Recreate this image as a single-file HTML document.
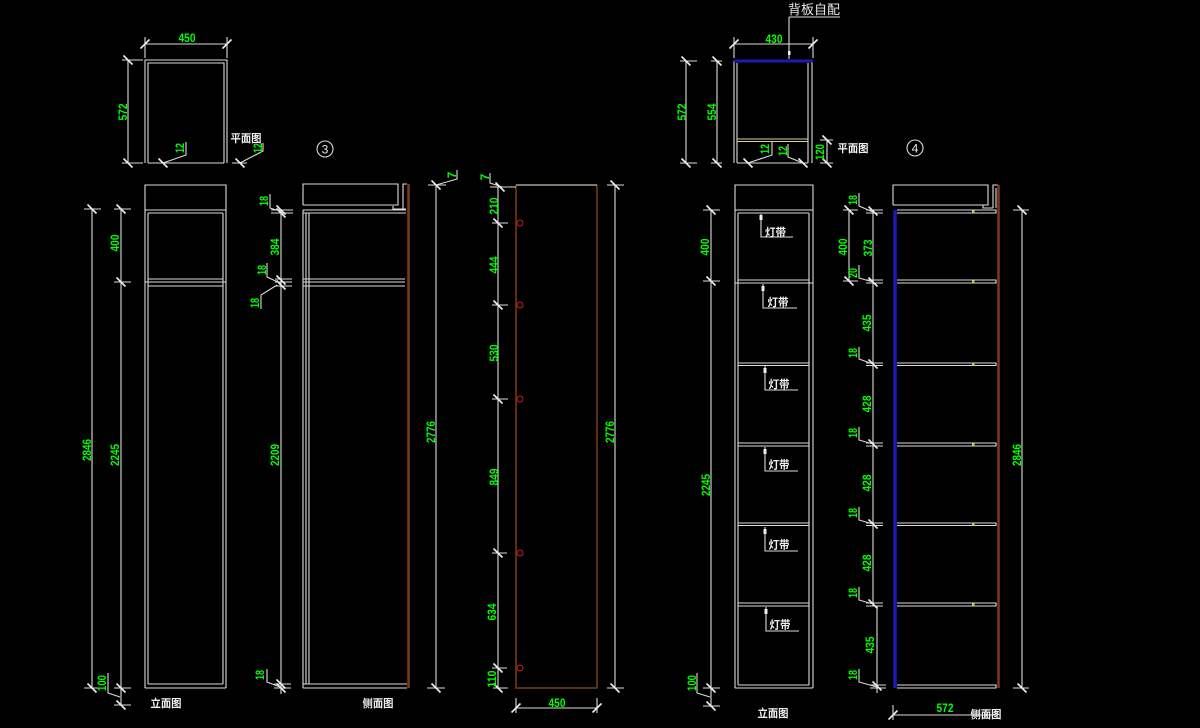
<!DOCTYPE html>
<html><head><meta charset="utf-8"><style>
html,body{margin:0;padding:0;background:#000;}
svg{display:block;}
.d{fill:#00ff00;font-family:"Liberation Sans","Noto Sans CJK SC",sans-serif;font-size:12px;font-weight:bold;}
.c{fill:#f0f0f0;font-family:"Liberation Sans","Noto Sans CJK SC",sans-serif;font-size:11px;font-weight:bold;}
.w{stroke:#dcdcdc;stroke-width:1.1;fill:none;}
.br{stroke:#7a3c14;fill:none;}
.bl{stroke:#1a1ab4;fill:none;}
</style></head><body>
<svg width="1200" height="728" viewBox="0 0 1200 728" xmlns="http://www.w3.org/2000/svg">
<defs>
<path id="tv" d="M-4.5,-4.5L4.5,4.5" stroke="#eeeeee" stroke-width="1.6"/>
<path id="th" d="M-4.5,4.5L4.5,-4.5" stroke="#eeeeee" stroke-width="1.6"/>
</defs>
<rect width="1200" height="728" fill="#000"/>

<!-- ===== LEFT PLAN ===== -->
<path class="w" d="M145,163V60H227V163M148,163V63H224V163M148,163H224"/>
<path class="w" d="M145,44H227M145,37V58M227,37V58"/>
<use href="#th" x="145" y="44"/><use href="#th" x="227" y="44"/>
<text class="d" x="187" y="42" text-anchor="middle" textLength="17" lengthAdjust="spacingAndGlyphs">450</text>
<path class="w" d="M128,60V163M122,60H143M122,163H143"/>
<use href="#tv" x="128" y="60"/><use href="#tv" x="128" y="163"/>
<text class="d" transform="translate(127,112) rotate(-90)" text-anchor="middle" textLength="17" lengthAdjust="spacingAndGlyphs">572</text>
<path class="w" d="M163,163L186,155V142"/><use href="#tv" x="163" y="163"/>
<text class="d" transform="translate(184,148) rotate(-90)" text-anchor="middle" textLength="10" lengthAdjust="spacingAndGlyphs">12</text>
<path class="w" d="M232,163H247M240,163L263,151V143"/><use href="#tv" x="240" y="163"/>
<text class="d" transform="translate(262,148) rotate(-90)" text-anchor="middle" textLength="10" lengthAdjust="spacingAndGlyphs">12</text>
<text class="c" x="246" y="142" text-anchor="middle" textLength="31" lengthAdjust="spacingAndGlyphs">平面图</text>
<circle cx="325" cy="149" r="8" class="w"/>
<text x="325" y="153.5" text-anchor="middle" style="fill:#e8e8e8;font-family:'Liberation Sans',sans-serif;font-size:12px;">3</text>

<!-- ===== LEFT ELEVATION ===== -->
<path class="w" d="M145,688V185H226V688M145,210H226M148,213H223M148,213V684M223,213V684M148,279H223M145,282H226M148,286H223M148,684H223M145,688H226"/>
<path class="w" d="M92,209V688M84,209H101M84,688H101"/>
<use href="#tv" x="92" y="209"/><use href="#tv" x="92" y="688"/>
<path class="w" d="M121,209V705M114,209H131M114,282H131M114,688H131M114,705H131"/>
<use href="#tv" x="121" y="209"/><use href="#tv" x="121" y="282"/><use href="#tv" x="121" y="688"/><use href="#tv" x="121" y="705"/>
<text class="d" transform="translate(91,450) rotate(-90)" text-anchor="middle" textLength="22" lengthAdjust="spacingAndGlyphs">2846</text>
<text class="d" transform="translate(119,243) rotate(-90)" text-anchor="middle" textLength="17" lengthAdjust="spacingAndGlyphs">400</text>
<text class="d" transform="translate(119,455) rotate(-90)" text-anchor="middle" textLength="22" lengthAdjust="spacingAndGlyphs">2245</text>
<path class="w" d="M108,673V693L120,697"/>
<text class="d" transform="translate(106,683) rotate(-90)" text-anchor="middle" textLength="16" lengthAdjust="spacingAndGlyphs">100</text>
<text class="c" x="166" y="707" text-anchor="middle" textLength="31" lengthAdjust="spacingAndGlyphs">立面图</text>

<!-- ===== MIDDLE SIDE VIEW ===== -->
<path class="w" d="M303,205V184H398V205H303M393,206V209H406M403,209V184H407"/>
<path class="br" stroke-width="2.5" d="M408.5,184V688"/>
<path class="w" d="M303,210H406M303,213H406M303,210V688M306,213V684M309,213V684M303,279H405M303,282H405M303,286H405M303,684H407M303,688H407"/>
<path class="w" d="M281,209V694M271,210H293M271,213H293M275,279H292M275,282H292M275,286H292M274,684H291M274,688H291"/>
<use href="#tv" x="281" y="210"/><use href="#tv" x="281" y="213"/><use href="#tv" x="281" y="280"/><use href="#tv" x="281" y="285"/><use href="#tv" x="281" y="684"/><use href="#tv" x="281" y="688"/>
<path class="w" d="M270,194V208L283,212M267,263V277L280,283M261,309V295L277,285M267,669V682L280,687"/>
<text class="d" transform="translate(268,201) rotate(-90)" text-anchor="middle" textLength="10" lengthAdjust="spacingAndGlyphs">18</text>
<text class="d" transform="translate(279,247) rotate(-90)" text-anchor="middle" textLength="17" lengthAdjust="spacingAndGlyphs">384</text>
<text class="d" transform="translate(266,270) rotate(-90)" text-anchor="middle" textLength="10" lengthAdjust="spacingAndGlyphs">18</text>
<text class="d" transform="translate(259,303) rotate(-90)" text-anchor="middle" textLength="10" lengthAdjust="spacingAndGlyphs">18</text>
<text class="d" transform="translate(279,455) rotate(-90)" text-anchor="middle" textLength="22" lengthAdjust="spacingAndGlyphs">2209</text>
<text class="d" transform="translate(264,675) rotate(-90)" text-anchor="middle" textLength="10" lengthAdjust="spacingAndGlyphs">18</text>
<text class="c" x="378" y="707" text-anchor="middle" textLength="31" lengthAdjust="spacingAndGlyphs">侧面图</text>
<path class="w" d="M436,185V688M428,185H446M427,688H445M436,185L457,179V170"/>
<use href="#tv" x="436" y="185"/><use href="#tv" x="436" y="688"/>
<text class="d" transform="translate(456,175) rotate(-90)" text-anchor="middle">7</text>
<text class="d" transform="translate(435,432) rotate(-90)" text-anchor="middle" textLength="22" lengthAdjust="spacingAndGlyphs">2776</text>

<!-- ===== BACK PANEL ===== -->
<path class="br" stroke-width="1.5" d="M516,185V688H597V185"/>
<path stroke="#c8c0b0" stroke-width="1.2" d="M516,185H597"/>
<g stroke="#c82020" fill="none" stroke-width="1">
<circle cx="520" cy="223" r="3"/><circle cx="520" cy="305" r="3"/><circle cx="520" cy="399" r="3"/><circle cx="520" cy="553" r="3"/><circle cx="520" cy="668" r="3"/>
</g>
<path class="w" d="M498,187V688M490,187H516M492,223H508M492,305H508M492,399H508M492,553H507M492,668H507M493,688H508M490,173V183L502,187"/>
<use href="#tv" x="500" y="187"/><use href="#tv" x="498" y="223"/><use href="#tv" x="498" y="305"/><use href="#tv" x="498" y="399"/><use href="#tv" x="498" y="553"/><use href="#tv" x="498" y="668"/><use href="#tv" x="498" y="688"/>
<text class="d" transform="translate(489,177) rotate(-90)" text-anchor="middle">7</text>
<text class="d" transform="translate(498,206) rotate(-90)" text-anchor="middle" textLength="17" lengthAdjust="spacingAndGlyphs">210</text>
<text class="d" transform="translate(498,265) rotate(-90)" text-anchor="middle" textLength="17" lengthAdjust="spacingAndGlyphs">444</text>
<text class="d" transform="translate(498,353) rotate(-90)" text-anchor="middle" textLength="17" lengthAdjust="spacingAndGlyphs">530</text>
<text class="d" transform="translate(498,477) rotate(-90)" text-anchor="middle" textLength="17" lengthAdjust="spacingAndGlyphs">849</text>
<text class="d" transform="translate(496,612) rotate(-90)" text-anchor="middle" textLength="17" lengthAdjust="spacingAndGlyphs">634</text>
<text class="d" transform="translate(496,679) rotate(-90)" text-anchor="middle" textLength="17" lengthAdjust="spacingAndGlyphs">110</text>
<path class="w" d="M615,185V688M607,185H624M607,688H624"/>
<use href="#tv" x="615" y="185"/><use href="#tv" x="615" y="688"/>
<text class="d" transform="translate(614,432) rotate(-90)" text-anchor="middle" textLength="22" lengthAdjust="spacingAndGlyphs">2776</text>
<path class="w" d="M516,708H597M516,698V713M597,698V713"/>
<use href="#th" x="516" y="708"/><use href="#th" x="597" y="708"/>
<text class="d" x="557" y="707" text-anchor="middle" textLength="17" lengthAdjust="spacingAndGlyphs">450</text>

<!-- ===== RIGHT PLAN ===== -->
<path class="w" d="M734,61V163M737,63V163M808,63V163M812,61V163M737,163H808"/>
<path class="bl" stroke-width="3" d="M734,61H813"/>
<path stroke="#d8d090" stroke-width="1" d="M737,139H808M737,141.5H808"/>
<text x="814" y="14" text-anchor="middle" textLength="52" lengthAdjust="spacingAndGlyphs" style="fill:#e8e8e8;font-family:'Liberation Sans','Noto Sans CJK SC',sans-serif;font-size:13px;">背板自配</text>
<path class="w" d="M789,17H840M789,17V59"/>
<rect x="788" y="51" width="2.5" height="4" fill="#eee"/>
<path class="w" d="M734,44H813M734,37V58M813,37V58"/>
<use href="#th" x="734" y="44"/><use href="#th" x="813" y="44"/>
<text class="d" x="774" y="43" text-anchor="middle" textLength="17" lengthAdjust="spacingAndGlyphs">430</text>
<path class="w" d="M686,61V163M680,61H697M680,163H697M717,61V163M711,61H722M711,163H722"/>
<use href="#tv" x="686" y="61"/><use href="#tv" x="686" y="163"/><use href="#tv" x="717" y="61"/><use href="#tv" x="717" y="163"/>
<text class="d" transform="translate(686,112) rotate(-90)" text-anchor="middle" textLength="17" lengthAdjust="spacingAndGlyphs">572</text>
<text class="d" transform="translate(716,112) rotate(-90)" text-anchor="middle" textLength="17" lengthAdjust="spacingAndGlyphs">554</text>
<path class="w" d="M748,163L772,155V142M788,144V157L803,163"/>
<use href="#tv" x="748" y="163"/><use href="#tv" x="803" y="163"/>
<text class="d" transform="translate(769,149) rotate(-90)" text-anchor="middle" textLength="10" lengthAdjust="spacingAndGlyphs">12</text>
<text class="d" transform="translate(787,151) rotate(-90)" text-anchor="middle" textLength="10" lengthAdjust="spacingAndGlyphs">12</text>
<path class="w" d="M827,140V163M820,140H833M820,163H833"/>
<use href="#tv" x="827" y="140"/><use href="#tv" x="827" y="163"/>
<text class="d" transform="translate(824,152) rotate(-90)" text-anchor="middle" textLength="16" lengthAdjust="spacingAndGlyphs">120</text>
<text class="c" x="853" y="152" text-anchor="middle" textLength="31" lengthAdjust="spacingAndGlyphs">平面图</text>
<circle cx="915" cy="148" r="8" class="w"/>
<text x="915" y="152.5" text-anchor="middle" style="fill:#e8e8e8;font-family:'Liberation Sans',sans-serif;font-size:12px;">4</text>

<!-- ===== RIGHT ELEVATION ===== -->
<path class="w" d="M735,688V185H813V688M735,210H813M738,213H809M738,213V685M809,213V685M738,280H809M735,283H813M738,363H809M738,365.5H809M738,443H809M738,446H809M738,523H809M738,525.5H809M738,603H809M738,606H809M738,685H809M735,688H813"/>
<path class="w" d="M761,214V237H793M763,284V308H797M765,366V390H798M765,447V471H798M765,527V551H798M766,607V631H799"/>
<g fill="#eee">
<rect x="759.5" y="215" width="3" height="5"/><rect x="761.5" y="286" width="3" height="5"/><rect x="763.5" y="368" width="3" height="5"/><rect x="763.5" y="449" width="3" height="5"/><rect x="763.5" y="529" width="3" height="5"/><rect x="764.5" y="609" width="3" height="5"/>
</g>
<text class="c" x="775.5" y="236" text-anchor="middle" textLength="21" lengthAdjust="spacingAndGlyphs">灯带</text>
<text class="c" x="778" y="306" text-anchor="middle" textLength="21" lengthAdjust="spacingAndGlyphs">灯带</text>
<text class="c" x="779" y="388" text-anchor="middle" textLength="21" lengthAdjust="spacingAndGlyphs">灯带</text>
<text class="c" x="779" y="468.5" text-anchor="middle" textLength="21" lengthAdjust="spacingAndGlyphs">灯带</text>
<text class="c" x="779" y="548.5" text-anchor="middle" textLength="21" lengthAdjust="spacingAndGlyphs">灯带</text>
<text class="c" x="780" y="628.5" text-anchor="middle" textLength="21" lengthAdjust="spacingAndGlyphs">灯带</text>
<path class="w" d="M711,210V706M703,210H720M703,281H720M703,688H720M703,706H720M697,673V693L710,697"/>
<use href="#tv" x="711" y="210"/><use href="#tv" x="711" y="281"/><use href="#tv" x="711" y="688"/><use href="#tv" x="711" y="706"/>
<text class="d" transform="translate(709,247) rotate(-90)" text-anchor="middle" textLength="17" lengthAdjust="spacingAndGlyphs">400</text>
<text class="d" transform="translate(710,485) rotate(-90)" text-anchor="middle" textLength="22" lengthAdjust="spacingAndGlyphs">2245</text>
<text class="d" transform="translate(696,683) rotate(-90)" text-anchor="middle" textLength="16" lengthAdjust="spacingAndGlyphs">100</text>
<text class="c" x="773" y="717" text-anchor="middle" textLength="31" lengthAdjust="spacingAndGlyphs">立面图</text>

<!-- ===== RIGHT SIDE VIEW ===== -->
<path class="w" d="M893,205V185H988V205H893M983,205V208H993M993,208V185H998M996,188V208"/>
<path class="br" stroke-width="2.5" d="M998.5,185V688"/>
<path class="bl" stroke-width="3.5" d="M895,210V688"/>
<path class="w" d="M897,210H996V213H897M897,280H996V283H897M897,363H996V365.5H897M897,443H996V446H897M897,523H996V525.5H897M897,603H996V606H897M897,685H996V688H897"/>
<g fill="#d8c820">
<rect x="972" y="210.5" width="2.5" height="2.5"/><rect x="972" y="280.5" width="2.5" height="2.5"/><rect x="972" y="363" width="2.5" height="2.5"/><rect x="972" y="443.5" width="2.5" height="2.5"/><rect x="972" y="523" width="2.5" height="2.5"/><rect x="972" y="603.5" width="2.5" height="2.5"/>
</g>
<path class="w" d="M849,210V281M843,210H858M843,281H858"/>
<use href="#tv" x="849" y="210"/><use href="#tv" x="849" y="281"/>
<text class="d" transform="translate(847,247) rotate(-90)" text-anchor="middle" textLength="17" lengthAdjust="spacingAndGlyphs">400</text>
<path class="w" d="M873,210V606M877,606V693M866,210H883M866,213H883M866,280H883M866,283H883M866,363H883M866,365.5H883M866,443H883M866,446H883M866,523H883M866,525.5H883M866,603H883M866,606H883M870,685H886M870,688H886"/>
<use href="#tv" x="873" y="211"/><use href="#tv" x="873" y="282"/><use href="#tv" x="873" y="364"/><use href="#tv" x="873" y="444"/><use href="#tv" x="873" y="524"/><use href="#tv" x="873" y="604"/><use href="#tv" x="877" y="686"/>
<path class="w" d="M859,193V206L873,212M859,265V278L873,282M859,347V359L873,364M859,427V440L873,444M859,507V520L873,524M859,587V600L873,604M859,669V682L877,687"/>
<text class="d" transform="translate(857,200) rotate(-90)" text-anchor="middle" textLength="10" lengthAdjust="spacingAndGlyphs">18</text>
<text class="d" transform="translate(872,248) rotate(-90)" text-anchor="middle" textLength="17" lengthAdjust="spacingAndGlyphs">373</text>
<text class="d" transform="translate(857,273) rotate(-90)" text-anchor="middle" textLength="10" lengthAdjust="spacingAndGlyphs">20</text>
<text class="d" transform="translate(871,323) rotate(-90)" text-anchor="middle" textLength="17" lengthAdjust="spacingAndGlyphs">435</text>
<text class="d" transform="translate(857,353) rotate(-90)" text-anchor="middle" textLength="10" lengthAdjust="spacingAndGlyphs">18</text>
<text class="d" transform="translate(871,404) rotate(-90)" text-anchor="middle" textLength="17" lengthAdjust="spacingAndGlyphs">428</text>
<text class="d" transform="translate(857,433) rotate(-90)" text-anchor="middle" textLength="10" lengthAdjust="spacingAndGlyphs">18</text>
<text class="d" transform="translate(871,483) rotate(-90)" text-anchor="middle" textLength="17" lengthAdjust="spacingAndGlyphs">428</text>
<text class="d" transform="translate(857,513) rotate(-90)" text-anchor="middle" textLength="10" lengthAdjust="spacingAndGlyphs">18</text>
<text class="d" transform="translate(871,563) rotate(-90)" text-anchor="middle" textLength="17" lengthAdjust="spacingAndGlyphs">428</text>
<text class="d" transform="translate(857,593) rotate(-90)" text-anchor="middle" textLength="10" lengthAdjust="spacingAndGlyphs">18</text>
<text class="d" transform="translate(874,645) rotate(-90)" text-anchor="middle" textLength="17" lengthAdjust="spacingAndGlyphs">435</text>
<text class="d" transform="translate(857,675) rotate(-90)" text-anchor="middle" textLength="10" lengthAdjust="spacingAndGlyphs">18</text>
<path class="w" d="M1022,210V688M1013,210H1029M1013,688H1029"/>
<use href="#tv" x="1022" y="210"/><use href="#tv" x="1022" y="688"/>
<text class="d" transform="translate(1021,455) rotate(-90)" text-anchor="middle" textLength="22" lengthAdjust="spacingAndGlyphs">2846</text>
<path class="w" d="M893,715H998M893,705V720"/>
<use href="#th" x="893" y="715"/>
<text class="d" x="945" y="712" text-anchor="middle" textLength="17" lengthAdjust="spacingAndGlyphs">572</text>
<text class="c" x="986" y="718" text-anchor="middle" textLength="31" lengthAdjust="spacingAndGlyphs">侧面图</text>
</svg>
</body></html>
